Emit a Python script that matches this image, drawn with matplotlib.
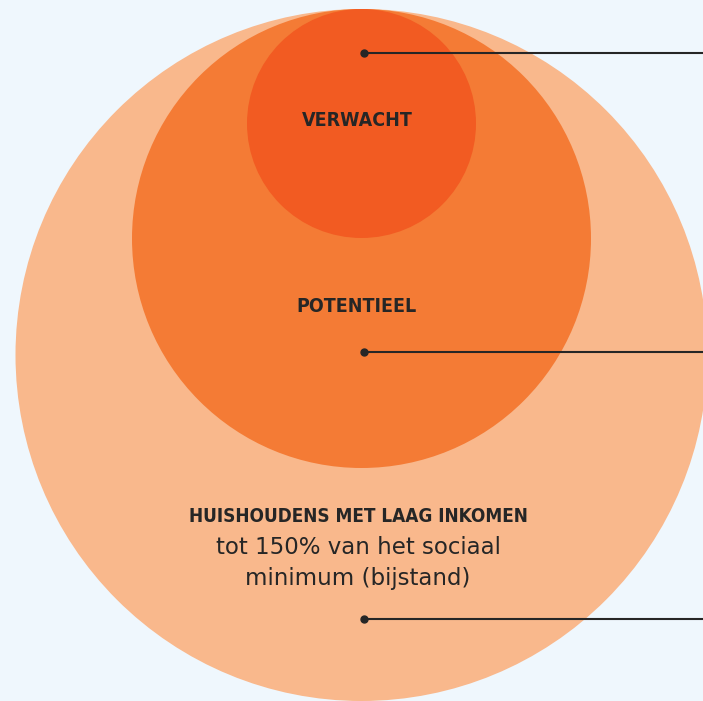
import matplotlib.pyplot as plt
from matplotlib.patches import Circle

# circle sizes (radius in px), biggest first
labels = ['HUISHOUDENS MET LAAG INKOMEN', 'POTENTIEEL', 'VERWACHT']
radii = [346, 229.5, 114.5]
colors = ['#F9B88C', '#F47B35', '#F25B22']
sub_label = 'tot 150% van het sociaal\nminimum (bijstand)'

bg = '#EFF7FD'
ink = '#262626'
W, H = 703, 701
cx, top = 361.5, 9

fig = plt.figure(figsize=(W / 100, H / 100), dpi=100, facecolor=bg)
ax = fig.add_axes([0, 0, 1, 1])
ax.set_xlim(0, W)
ax.set_ylim(H, 0)
ax.set_aspect('equal')
ax.axis('off')
ax.set_facecolor(bg)

# nested circles, all touching at the top
for r, c in zip(radii, colors):
    ax.add_patch(Circle((cx, top + r), r, facecolor=c, edgecolor='none'))

head = dict(family='DejaVu Sans', stretch='condensed', weight='bold',
            color=ink, ha='center', va='center')
ax.text(357, 120, labels[2], fontsize=14, **head)
ax.text(357, 306, labels[1], fontsize=14, **head)
ax.text(358, 516, labels[0], fontsize=13.6, **head)
ax.text(358, 563, sub_label, fontsize=16.5, family='DejaVu Sans',
        color=ink, ha='center', va='center', linespacing=1.45)

# leader lines going off to the right
for y in [53, 352, 619]:
    ax.plot([364, W + 5], [y, y], color=ink, lw=1.5, solid_capstyle='butt')
    ax.plot(364, y, 'o', color=ink, ms=5)

fig.savefig('out.png', dpi=100, facecolor=bg)
